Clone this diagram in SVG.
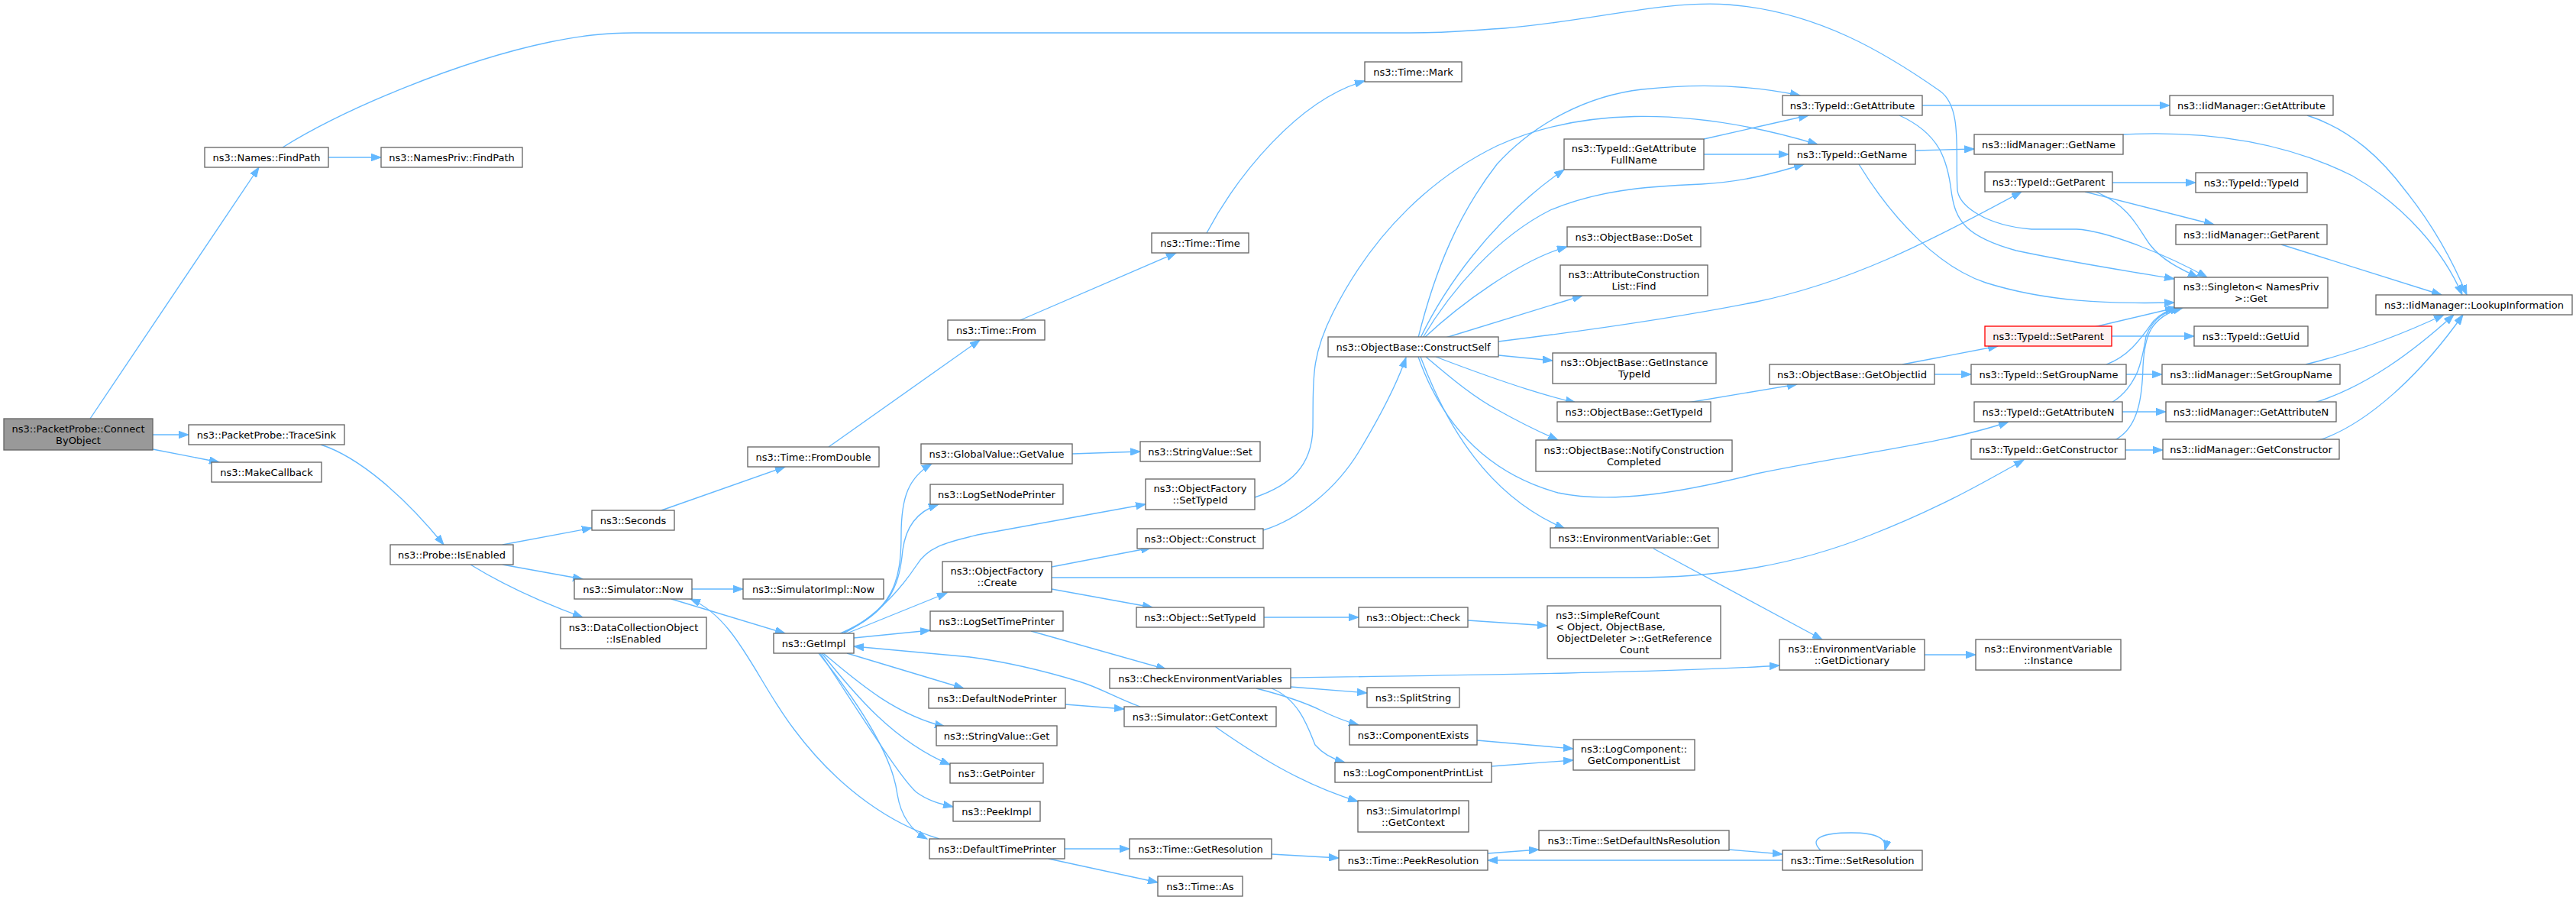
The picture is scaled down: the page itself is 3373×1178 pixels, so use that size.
<svg xmlns="http://www.w3.org/2000/svg" width="3373" height="1178" viewBox="0 0 3373 1178">
<style>
.n rect{fill:#ffffff;stroke:#666666;stroke-width:1.33}
.n.root rect{fill:#999999}
.n.red rect{fill:#fff0f0;stroke:#ff0000}
text{font-family:"DejaVu Sans","Liberation Sans",sans-serif;font-size:13px;text-anchor:middle;fill:#000000}
text.l{text-anchor:start}
#edges path{fill:none;stroke:#63b8ff;stroke-width:1.33;marker-end:url(#arr)}
</style>
<defs>
<marker id="arr" markerUnits="userSpaceOnUse" markerWidth="14" markerHeight="10" viewBox="0 0 14 10" refX="13" refY="5" orient="auto">
<path d="M0,0.3 L13,5 L0,9.7 z" fill="#63b8ff" stroke="#63b8ff" stroke-width="1"/>
</marker>
</defs>
<rect width="3373" height="1178" fill="#ffffff"/>
<g id="edges">
<path d="M118,548 L339,219"/>
<path d="M200,569 L247,569"/>
<path d="M200,588 L287,605"/>
<path d="M430,206 L499,206"/>
<path d="M370,193 C450,143 600,80 720,55 C760,47 790,43 830,43 L1846,43 C1900,43 1920,40 1970,37 C2080,28 2180,0 2263,6 C2380,15 2470,70 2540,119 C2570,140 2560,200 2563,249 C2566,270 2600,295 2660,300 L2719,300 C2760,302 2840,335 2890,363"/>
<path d="M420,582 C470,598 530,650 581,713"/>
<path d="M658,713 L775,691"/>
<path d="M658,739 L763,758"/>
<path d="M616,739 C650,760 700,785 763,808"/>
<path d="M866,668 L1028,611"/>
<path d="M1085,585 L1283,445"/>
<path d="M1336,419 L1540,331"/>
<path d="M1580,305 C1620,230 1700,130 1787,106"/>
<path d="M906,771 L973,771"/>
<path d="M879,784 L1028,829"/>
<path d="M1230,1098 C1170,1080 1100,1035 1040,955 C990,890 965,810 904,784"/>
<path d="M1100,829 C1170,800 1180,760 1180,700 C1180,650 1190,625 1220,607"/>
<path d="M1102,829 C1170,800 1178,760 1182,720 C1186,690 1200,670 1229,660"/>
<path d="M1105,829 C1150,805 1180,770 1200,740 C1215,715 1240,710 1280,700 L1500,660"/>
<path d="M1109,829 L1240,776"/>
<path d="M1118,835 L1218,825"/>
<path d="M1493,925 C1460,913 1440,900 1413,892 C1380,882 1330,868 1270,860 L1118,846"/>
<path d="M1109,855 L1262,901"/>
<path d="M1078,855 C1120,890 1170,935 1237,951"/>
<path d="M1076,855 C1120,910 1170,970 1244,1001"/>
<path d="M1074,855 C1130,940 1180,1020 1200,1037 C1215,1048 1230,1052 1248,1056"/>
<path d="M1072,855 C1140,940 1170,1000 1175,1040 C1180,1070 1195,1088 1214,1098"/>
<path d="M1394,1111 L1479,1111"/>
<path d="M1373,1124 L1516,1155"/>
<path d="M1665,1118 L1753,1123"/>
<path d="M1948,1117 L2015,1112"/>
<path d="M2334,1126 L1948,1126"/>
<path d="M2264,1112 L2334,1118"/>
<path d="M2384,1113 C2368,1098 2385,1090 2424,1090 C2458,1090 2472,1098 2468,1113"/>
<path d="M1404,594 L1493,591"/>
<path d="M1643,651 C1690,635 1718,610 1719,560 C1720,500 1715,470 1745,410 C1800,300 1880,230 1960,191 C2060,145 2200,135 2380,189"/>
<path d="M1857,442 C1880,350 1910,280 1960,215 C2010,160 2080,125 2150,117 C2230,108 2300,113 2357,125"/>
<path d="M1860,442 C1890,380 1950,290 2048,222"/>
<path d="M1863,442 C1900,380 1960,310 2030,275 C2090,250 2150,244 2228,241 C2280,238 2320,228 2362,215"/>
<path d="M1865,442 C1910,400 1990,340 2052,323"/>
<path d="M1893,442 L2072,387"/>
<path d="M1962,447 C2100,430 2200,415 2300,395 C2420,370 2520,320 2647,251"/>
<path d="M1962,465 L2033,472"/>
<path d="M1880,467 C1940,490 2010,515 2063,527"/>
<path d="M1867,467 C1900,495 1930,520 1960,536 C1990,553 2015,565 2040,576"/>
<path d="M1860,467 C1895,560 1950,650 2049,692"/>
<path d="M1857,467 C1890,560 1950,620 2040,645 C2110,660 2200,645 2300,620 C2420,595 2550,580 2630,552"/>
<path d="M1654,694 C1700,680 1750,640 1780,590 C1810,540 1830,500 1841,468"/>
<path d="M1377,742 L1507,717"/>
<path d="M1377,771 L1509,795"/>
<path d="M1377,756 L2139,756 C2250,756 2350,740 2450,700 C2540,665 2600,630 2650,602"/>
<path d="M1655,808 L1779,808"/>
<path d="M1922,812 L2026,819"/>
<path d="M1350,826 L1527,876"/>
<path d="M1690,887 C1900,884 2200,880 2330,871"/>
<path d="M1690,899 L1790,907"/>
<path d="M1645,901 C1680,910 1710,920 1730,930 C1750,940 1765,945 1779,949"/>
<path d="M1665,901 C1700,915 1712,950 1722,975 C1735,990 1750,995 1761,998"/>
<path d="M1934,969 L2060,980"/>
<path d="M1953,1003 L2060,995"/>
<path d="M1395,922 L1472,928"/>
<path d="M1591,951 C1640,985 1700,1025 1778,1049"/>
<path d="M2165,718 L2386,837"/>
<path d="M2520,857 L2587,857"/>
<path d="M2210,527 L2353,503"/>
<path d="M2491,477 L2616,453"/>
<path d="M2533,490 L2581,490"/>
<path d="M2231,182 L2368,151"/>
<path d="M2231,202 L2342,202"/>
<path d="M2517,138 L2841,138"/>
<path d="M2487,151 C2540,175 2550,210 2555,250 C2560,290 2575,310 2640,328 C2720,345 2800,357 2847,365"/>
<path d="M2508,197 L2585,195"/>
<path d="M2434,215 C2480,290 2540,350 2600,370 C2680,395 2760,398 2847,396"/>
<path d="M2780,176 C2900,170 3000,190 3080,230 C3150,270 3200,330 3224,386"/>
<path d="M3021,151 C3080,170 3120,210 3150,250 C3190,300 3215,350 3230,386"/>
<path d="M2766,239 L2875,239"/>
<path d="M2730,251 L2899,294"/>
<path d="M2744,251 C2790,270 2800,300 2815,320 C2830,340 2855,352 2878,363"/>
<path d="M2987,320 L3197,386"/>
<path d="M2765,440 L2873,440"/>
<path d="M2742,428 L2848,403"/>
<path d="M2784,490 L2831,490"/>
<path d="M2758,477 C2790,465 2805,440 2820,420 C2830,410 2840,405 2852,403"/>
<path d="M2765,527 C2800,505 2805,470 2810,440 C2820,415 2835,408 2855,403"/>
<path d="M2769,576 C2800,560 2805,520 2806,480 C2808,440 2815,415 2858,403"/>
<path d="M2779,539 L2836,539"/>
<path d="M2783,589 L2832,589"/>
<path d="M3019,477 C3080,462 3140,440 3200,412"/>
<path d="M3031,527 C3100,505 3160,460 3213,412"/>
<path d="M3037,576 C3100,555 3170,490 3225,412"/>
</g>
<g id="n1" class="n root"><rect x="5" y="548" width="195" height="41"/><text x="102.5" y="565.5">ns3::PacketProbe::Connect</text><text x="102.5" y="580.5">ByObject</text></g>
<g id="n2" class="n"><rect x="268" y="193" width="162" height="26"/><text x="349" y="210.5">ns3::Names::FindPath</text></g>
<g id="n3" class="n"><rect x="499" y="193" width="185" height="26"/><text x="591.5" y="210.5">ns3::NamesPriv::FindPath</text></g>
<g id="n4" class="n"><rect x="247" y="556" width="204" height="26"/><text x="349" y="573.5">ns3::PacketProbe::TraceSink</text></g>
<g id="n5" class="n"><rect x="277" y="605" width="144" height="26"/><text x="349" y="622.5">ns3::MakeCallback</text></g>
<g id="n6" class="n"><rect x="511" y="713" width="161" height="26"/><text x="591.5" y="730.5">ns3::Probe::IsEnabled</text></g>
<g id="n7" class="n"><rect x="775" y="668" width="108" height="26"/><text x="829" y="685.5">ns3::Seconds</text></g>
<g id="n8" class="n"><rect x="752" y="758" width="154" height="26"/><text x="829" y="775.5">ns3::Simulator::Now</text></g>
<g id="n9" class="n"><rect x="734" y="808" width="191" height="41"/><text x="829.5" y="825.5">ns3::DataCollectionObject</text><text x="829.5" y="840.5">::IsEnabled</text></g>
<g id="n10" class="n"><rect x="979" y="585" width="172" height="26"/><text x="1065" y="602.5">ns3::Time::FromDouble</text></g>
<g id="n11" class="n"><rect x="973" y="758" width="184" height="26"/><text x="1065" y="775.5">ns3::SimulatorImpl::Now</text></g>
<g id="n12" class="n"><rect x="1013" y="829" width="105" height="26"/><text x="1065.5" y="846.5">ns3::GetImpl</text></g>
<g id="n13" class="n"><rect x="1241" y="419" width="127" height="26"/><text x="1304.5" y="436.5">ns3::Time::From</text></g>
<g id="n14" class="n"><rect x="1508" y="305" width="127" height="26"/><text x="1571.5" y="322.5">ns3::Time::Time</text></g>
<g id="n15" class="n"><rect x="1787" y="81" width="127" height="26"/><text x="1850.5" y="98.5">ns3::Time::Mark</text></g>
<g id="n16" class="n"><rect x="1206" y="581" width="198" height="26"/><text x="1305" y="598.5">ns3::GlobalValue::GetValue</text></g>
<g id="n17" class="n"><rect x="1493" y="578" width="157" height="26"/><text x="1571.5" y="595.5">ns3::StringValue::Set</text></g>
<g id="n18" class="n"><rect x="1218" y="634" width="174" height="26"/><text x="1305" y="651.5">ns3::LogSetNodePrinter</text></g>
<g id="n19" class="n"><rect x="1500" y="627" width="143" height="40"/><text x="1571.5" y="644">ns3::ObjectFactory</text><text x="1571.5" y="659">::SetTypeId</text></g>
<g id="n20" class="n"><rect x="1489" y="692" width="165" height="26"/><text x="1571.5" y="709.5">ns3::Object::Construct</text></g>
<g id="n21" class="n"><rect x="1234" y="735" width="143" height="40"/><text x="1305.5" y="752">ns3::ObjectFactory</text><text x="1305.5" y="767">::Create</text></g>
<g id="n22" class="n"><rect x="1488" y="795" width="167" height="26"/><text x="1571.5" y="812.5">ns3::Object::SetTypeId</text></g>
<g id="n23" class="n"><rect x="1779" y="795" width="143" height="26"/><text x="1850.5" y="812.5">ns3::Object::Check</text></g>
<g id="n24" class="n"><rect x="1218" y="800" width="174" height="26"/><text x="1305" y="817.5">ns3::LogSetTimePrinter</text></g>
<g id="n25" class="n"><rect x="1453" y="875" width="237" height="26"/><text x="1571.5" y="892.5">ns3::CheckEnvironmentVariables</text></g>
<g id="n26" class="n"><rect x="1790" y="900" width="121" height="26"/><text x="1850.5" y="917.5">ns3::SplitString</text></g>
<g id="n27" class="n"><rect x="1216" y="901" width="179" height="26"/><text x="1305.5" y="918.5">ns3::DefaultNodePrinter</text></g>
<g id="n28" class="n"><rect x="1472" y="925" width="199" height="26"/><text x="1571.5" y="942.5">ns3::Simulator::GetContext</text></g>
<g id="n29" class="n"><rect x="1767" y="949" width="167" height="26"/><text x="1850.5" y="966.5">ns3::ComponentExists</text></g>
<g id="n30" class="n"><rect x="1226" y="950" width="158" height="26"/><text x="1305" y="967.5">ns3::StringValue::Get</text></g>
<g id="n31" class="n"><rect x="1244" y="999" width="122" height="26"/><text x="1305" y="1016.5">ns3::GetPointer</text></g>
<g id="n32" class="n"><rect x="1748" y="998" width="205" height="26"/><text x="1850.5" y="1015.5">ns3::LogComponentPrintList</text></g>
<g id="n33" class="n"><rect x="1248" y="1049" width="114" height="26"/><text x="1305" y="1066.5">ns3::PeekImpl</text></g>
<g id="n34" class="n"><rect x="1778" y="1048" width="145" height="41"/><text x="1850.5" y="1065.5">ns3::SimulatorImpl</text><text x="1850.5" y="1080.5">::GetContext</text></g>
<g id="n35" class="n"><rect x="1217" y="1098" width="177" height="26"/><text x="1305.5" y="1115.5">ns3::DefaultTimePrinter</text></g>
<g id="n36" class="n"><rect x="1479" y="1098" width="186" height="26"/><text x="1572" y="1115.5">ns3::Time::GetResolution</text></g>
<g id="n37" class="n"><rect x="1753" y="1113" width="195" height="26"/><text x="1850.5" y="1130.5">ns3::Time::PeekResolution</text></g>
<g id="n38" class="n"><rect x="1516" y="1147" width="111" height="26"/><text x="1571.5" y="1164.5">ns3::Time::As</text></g>
<g id="n39" class="n"><rect x="1739" y="441" width="223" height="26"/><text x="1850.5" y="458.5">ns3::ObjectBase::ConstructSelf</text></g>
<g id="n40" class="n"><rect x="2334" y="125" width="183" height="26"/><text x="2425.5" y="142.5">ns3::TypeId::GetAttribute</text></g>
<g id="n41" class="n"><rect x="2048" y="182" width="183" height="40"/><text x="2139.5" y="199">ns3::TypeId::GetAttribute</text><text x="2139.5" y="214">FullName</text></g>
<g id="n42" class="n"><rect x="2342" y="189" width="166" height="26"/><text x="2425" y="206.5">ns3::TypeId::GetName</text></g>
<g id="n43" class="n"><rect x="2052" y="297" width="175" height="26"/><text x="2139.5" y="314.5">ns3::ObjectBase::DoSet</text></g>
<g id="n44" class="n"><rect x="2043" y="347" width="193" height="40"/><text x="2139.5" y="364">ns3::AttributeConstruction</text><text x="2139.5" y="379">List::Find</text></g>
<g id="n45" class="n"><rect x="2033" y="462" width="214" height="40"/><text x="2140" y="479">ns3::ObjectBase::GetInstance</text><text x="2140" y="494">TypeId</text></g>
<g id="n46" class="n"><rect x="2039" y="526" width="201" height="26"/><text x="2139.5" y="543.5">ns3::ObjectBase::GetTypeId</text></g>
<g id="n47" class="n"><rect x="2011" y="576" width="257" height="41"/><text x="2139.5" y="593.5">ns3::ObjectBase::NotifyConstruction</text><text x="2139.5" y="608.5">Completed</text></g>
<g id="n48" class="n"><rect x="2030" y="691" width="220" height="26"/><text x="2140" y="708.5">ns3::EnvironmentVariable::Get</text></g>
<g id="n49" class="n"><rect x="2026" y="793" width="227" height="69"/><text class="l" x="2037" y="809.5">ns3::SimpleRefCount</text><text class="l" x="2037" y="824.5">&lt; Object, ObjectBase,</text><text x="2140" y="839.5">ObjectDeleter &gt;::GetReference</text><text x="2140" y="854.5">Count</text></g>
<g id="n50" class="n"><rect x="2060" y="968" width="159" height="40"/><text x="2139.5" y="985">ns3::LogComponent::</text><text x="2139.5" y="1000">GetComponentList</text></g>
<g id="n51" class="n"><rect x="2015" y="1087" width="249" height="26"/><text x="2139.5" y="1104.5">ns3::Time::SetDefaultNsResolution</text></g>
<g id="n52" class="n"><rect x="2317" y="477" width="216" height="26"/><text x="2425" y="494.5">ns3::ObjectBase::GetObjectIid</text></g>
<g id="n53" class="n"><rect x="2330" y="837" width="190" height="40"/><text x="2425" y="854">ns3::EnvironmentVariable</text><text x="2425" y="869">::GetDictionary</text></g>
<g id="n54" class="n"><rect x="2334" y="1113" width="183" height="26"/><text x="2425.5" y="1130.5">ns3::Time::SetResolution</text></g>
<g id="n55" class="n"><rect x="2585" y="176" width="195" height="26"/><text x="2682.5" y="193.5">ns3::IidManager::GetName</text></g>
<g id="n56" class="n"><rect x="2599" y="225" width="167" height="26"/><text x="2682.5" y="242.5">ns3::TypeId::GetParent</text></g>
<g id="n57" class="n red"><rect x="2599" y="427" width="166" height="26"/><text x="2682" y="444.5">ns3::TypeId::SetParent</text></g>
<g id="n58" class="n"><rect x="2581" y="477" width="203" height="26"/><text x="2682.5" y="494.5">ns3::TypeId::SetGroupName</text></g>
<g id="n59" class="n"><rect x="2585" y="526" width="194" height="26"/><text x="2682" y="543.5">ns3::TypeId::GetAttributeN</text></g>
<g id="n60" class="n"><rect x="2581" y="575" width="202" height="26"/><text x="2682" y="592.5">ns3::TypeId::GetConstructor</text></g>
<g id="n61" class="n"><rect x="2587" y="837" width="190" height="40"/><text x="2682" y="854">ns3::EnvironmentVariable</text><text x="2682" y="869">::Instance</text></g>
<g id="n62" class="n"><rect x="2841" y="125" width="214" height="26"/><text x="2948" y="142.5">ns3::IidManager::GetAttribute</text></g>
<g id="n63" class="n"><rect x="2875" y="226" width="146" height="26"/><text x="2948" y="243.5">ns3::TypeId::TypeId</text></g>
<g id="n64" class="n"><rect x="2849" y="294" width="198" height="26"/><text x="2948" y="311.5">ns3::IidManager::GetParent</text></g>
<g id="n65" class="n"><rect x="2847" y="363" width="201" height="40"/><text x="2947.5" y="380">ns3::Singleton&lt; NamesPriv</text><text x="2947.5" y="395">&gt;::Get</text></g>
<g id="n66" class="n"><rect x="2873" y="427" width="149" height="26"/><text x="2947.5" y="444.5">ns3::TypeId::GetUid</text></g>
<g id="n67" class="n"><rect x="2831" y="477" width="233" height="26"/><text x="2947.5" y="494.5">ns3::IidManager::SetGroupName</text></g>
<g id="n68" class="n"><rect x="2836" y="526" width="223" height="26"/><text x="2947.5" y="543.5">ns3::IidManager::GetAttributeN</text></g>
<g id="n69" class="n"><rect x="2832" y="575" width="231" height="26"/><text x="2947.5" y="592.5">ns3::IidManager::GetConstructor</text></g>
<g id="n70" class="n"><rect x="3111" y="386" width="257" height="26"/><text x="3239.5" y="403.5">ns3::IidManager::LookupInformation</text></g>
</svg>
